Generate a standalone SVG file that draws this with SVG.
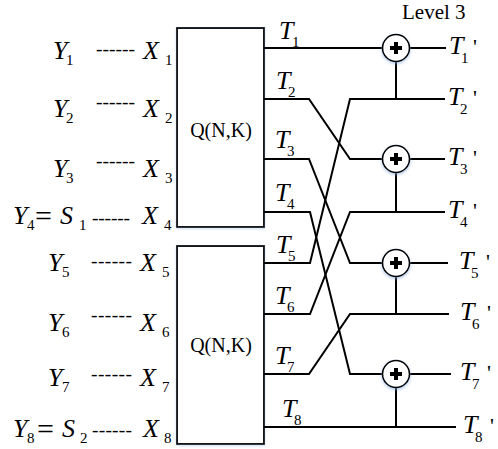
<svg xmlns="http://www.w3.org/2000/svg" width="498" height="449" viewBox="0 0 498 449">
<style>
.v{font-family:"Liberation Serif","Times New Roman",serif;font-style:italic;font-size:26px;fill:#000}
.s{font-family:"Liberation Serif","Times New Roman",serif;font-style:normal;font-size:15px}
.r{font-family:"Liberation Serif","Times New Roman",serif;font-style:normal;font-size:20px;fill:#000}
.eq{font-family:"Liberation Serif","Times New Roman",serif;font-style:normal;font-size:30px;fill:#000}
.d{font-family:"Liberation Serif","Times New Roman",serif;font-style:normal;font-size:19.5px;fill:#000}
.p{font-family:"Liberation Serif","Times New Roman",serif;font-style:normal;font-size:22px}
.lv{font-family:"Liberation Serif","Times New Roman",serif;font-size:21px;fill:#000}
.ln{fill:none;stroke:#000;stroke-width:2}
.box{fill:#fff;stroke:#000;stroke-width:1.8}
.xor{fill:#fff;stroke:#000;stroke-width:1.6}
.plus{stroke:#000;stroke-width:4;fill:none}
</style>
<defs>
<filter id="glow" x="-50%" y="-50%" width="200%" height="200%">
<feDropShadow dx="0" dy="1.5" stdDeviation="1.6" flood-color="#7fa7d9" flood-opacity="0.6"/>
</filter>
<filter id="bglow" x="-10%" y="-10%" width="120%" height="120%">
<feDropShadow dx="0" dy="1" stdDeviation="1" flood-color="#9dbbe0" flood-opacity="0.5"/>
</filter>
<g id="xorsym">
<circle class="xor" r="13.5" cx="0" cy="0"/>
<path class="plus" d="M-6 0H6M0 -6V6"/>
</g>
</defs>
<rect width="498" height="449" fill="#fff"/>

<g id="inputs">
<g id="row1"><text class="v" x="53" y="59">Y<tspan class="s" x="66" y="65">1</tspan></text><text class="d" x="96" y="54.5" textLength="39" lengthAdjust="spacing">------</text><text class="v" x="143" y="59">X<tspan class="s" x="165" y="65">1</tspan></text></g>
<g id="row2"><text class="v" x="53" y="117">Y<tspan class="s" x="66" y="123">2</tspan></text><text class="d" x="96" y="107.5" textLength="39" lengthAdjust="spacing">------</text><text class="v" x="143" y="117">X<tspan class="s" x="165" y="123">2</tspan></text></g>
<g id="row3"><text class="v" x="53" y="177">Y<tspan class="s" x="66" y="183">3</tspan></text><text class="d" x="96" y="166.5" textLength="39" lengthAdjust="spacing">------</text><text class="v" x="143" y="177">X<tspan class="s" x="165" y="183">3</tspan></text></g>
<g id="row4"><text class="v" x="13" y="224">Y<tspan class="s" x="27" y="230">4</tspan></text><text class="eq" x="35" y="226">=</text><text class="v" x="60" y="224">S<tspan class="s" x="79" y="230">1</tspan></text><text class="d" x="92" y="223.5" textLength="38" lengthAdjust="spacing">------</text><text class="v" x="142" y="224">X<tspan class="s" x="164" y="230">4</tspan></text></g>
<g id="row5"><text class="v" x="48" y="271">Y<tspan class="s" x="62" y="277">5</tspan></text><text class="d" x="91" y="266.5" textLength="41" lengthAdjust="spacing">------</text><text class="v" x="140" y="271">X<tspan class="s" x="162" y="277">5</tspan></text></g>
<g id="row6"><text class="v" x="48" y="331">Y<tspan class="s" x="62" y="337">6</tspan></text><text class="d" x="91" y="320.5" textLength="41" lengthAdjust="spacing">------</text><text class="v" x="140" y="331">X<tspan class="s" x="162" y="337">6</tspan></text></g>
<g id="row7"><text class="v" x="48" y="386">Y<tspan class="s" x="62" y="392">7</tspan></text><text class="d" x="91" y="379.5" textLength="41" lengthAdjust="spacing">------</text><text class="v" x="140" y="386">X<tspan class="s" x="162" y="392">7</tspan></text></g>
<g id="row8"><text class="v" x="13" y="437">Y<tspan class="s" x="27" y="443">8</tspan></text><text class="eq" x="37" y="439">=</text><text class="v" x="62" y="437">S<tspan class="s" x="80" y="443">2</tspan></text><text class="d" x="92" y="435.5" textLength="40" lengthAdjust="spacing">------</text><text class="v" x="143" y="437">X<tspan class="s" x="164" y="443">8</tspan></text></g>
</g>

<g id="box1"><rect class="box" x="177" y="28" width="87" height="199" filter="url(#bglow)"/><text class="r" x="221" y="137" text-anchor="middle">Q(N,K)</text></g>
<g id="box2"><rect class="box" x="177" y="246" width="87" height="198" filter="url(#bglow)"/><text class="r" x="221" y="352" text-anchor="middle">Q(N,K)</text></g>

<g id="connectors">
<path class="ln" d="M264 48H446"/>
<path class="ln" d="M264 99H309L350 159H445"/>
<path class="ln" d="M264 159H309L350 263H448"/>
<path class="ln" d="M264 212H310L350 374H451"/>
<path class="ln" d="M264 263H310L350 99H445"/>
<path class="ln" d="M264 314H310L350 212H445"/>
<path class="ln" d="M264 374H309L350 314H449"/>
<path class="ln" d="M264 427H456"/>
<path class="ln" d="M396 48V99M396 159V212M396 263V314M396 374V427"/>
</g>

<g id="xor1"><use href="#xorsym" x="396" y="48" filter="url(#glow)"/></g>
<g id="xor2"><use href="#xorsym" x="396" y="159" filter="url(#glow)"/></g>
<g id="xor3"><use href="#xorsym" x="396" y="263" filter="url(#glow)"/></g>
<g id="xor4"><use href="#xorsym" x="396" y="374" filter="url(#glow)"/></g>

<g id="tlabels">
<text class="v" x="279" y="39">T<tspan class="s" x="292" y="47">1</tspan></text>
<text class="v" x="276" y="89">T<tspan class="s" x="288" y="97">2</tspan></text>
<text class="v" x="275" y="148">T<tspan class="s" x="287" y="156">3</tspan></text>
<text class="v" x="275" y="201">T<tspan class="s" x="287" y="209">4</tspan></text>
<text class="v" x="276" y="253">T<tspan class="s" x="288" y="261">5</tspan></text>
<text class="v" x="275" y="304">T<tspan class="s" x="287" y="312">6</tspan></text>
<text class="v" x="275" y="364">T<tspan class="s" x="287" y="372">7</tspan></text>
<text class="v" x="282" y="417">T<tspan class="s" x="294" y="425">8</tspan></text>
</g>

<g id="outputs">
<text class="lv" x="402" y="19">Level 3</text>
<text class="v" x="449" y="54">T<tspan class="s" x="461" y="63">1</tspan><tspan class="p" x="473" y="54">'</tspan></text>
<text class="v" x="448" y="105">T<tspan class="s" x="460" y="114">2</tspan><tspan class="p" x="473" y="105">'</tspan></text>
<text class="v" x="448" y="165">T<tspan class="s" x="460" y="174">3</tspan><tspan class="p" x="473" y="165">'</tspan></text>
<text class="v" x="448" y="218">T<tspan class="s" x="460" y="227">4</tspan><tspan class="p" x="473" y="218">'</tspan></text>
<text class="v" x="459" y="269">T<tspan class="s" x="471" y="278">5</tspan><tspan class="p" x="486" y="269">'</tspan></text>
<text class="v" x="460" y="320">T<tspan class="s" x="472" y="329">6</tspan><tspan class="p" x="487" y="320">'</tspan></text>
<text class="v" x="460" y="380">T<tspan class="s" x="472" y="389">7</tspan><tspan class="p" x="487" y="380">'</tspan></text>
<text class="v" x="463" y="433">T<tspan class="s" x="475" y="442">8</tspan><tspan class="p" x="490" y="433">'</tspan></text>
</g>
</svg>
